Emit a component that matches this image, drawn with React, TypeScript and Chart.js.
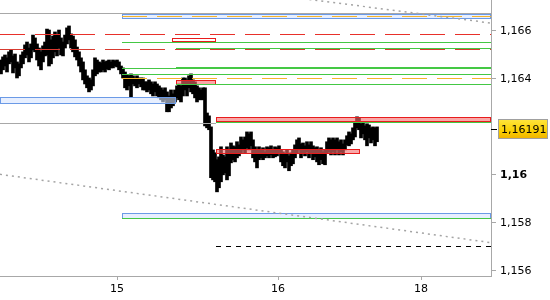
import React, { useEffect, useRef } from 'react';
import { Chart, registerables } from 'chart.js';
Chart.register(...registerables);

// ---- price bars (high / low), one per bar index ----
const highs = [
  1.16479, 1.16492, 1.16500, 1.16488, 1.16513, 1.16521, 1.16496, 1.16504, 1.16471, 1.16463,
  1.16500, 1.16513, 1.16542, 1.16554, 1.16529, 1.16546, 1.16583, 1.16571, 1.16546, 1.16529,
  1.16513, 1.16538, 1.16554, 1.16608, 1.16604, 1.16563, 1.16579, 1.16596, 1.16583, 1.16604,
  1.16571, 1.16554, 1.16583, 1.16613, 1.16621, 1.16588, 1.16579, 1.16563, 1.16533, 1.16513,
  1.16488, 1.16471, 1.16438, 1.16413, 1.16404, 1.16396, 1.16438, 1.16488, 1.16479, 1.16471,
  1.16467, 1.16479, 1.16471, 1.16475, 1.16479, 1.16471, 1.16479, 1.16475, 1.16479, 1.16471,
  1.16454, 1.16446, 1.16429, 1.16417, 1.16413, 1.16421, 1.16413, 1.16404, 1.16413, 1.16404,
  1.16404, 1.16404, 1.16388, 1.16388, 1.16396, 1.16388, 1.16379, 1.16388, 1.16379, 1.16371,
  1.16363, 1.16354, 1.16363, 1.16346, 1.16329, 1.16354, 1.16338, 1.16354, 1.16371, 1.16379,
  1.16371, 1.16404, 1.16404, 1.16396, 1.16413, 1.16421, 1.16396, 1.16388, 1.16371, 1.16363,
  1.16354, 1.16363, 1.16363, 1.16258, 1.16246, 1.16200, 1.16104, 1.16092, 1.16063, 1.16075,
  1.16117, 1.16083, 1.16075, 1.16117, 1.16104, 1.16133, 1.16121, 1.16117, 1.16138, 1.16125,
  1.16158, 1.16146, 1.16158, 1.16179, 1.16171, 1.16179, 1.16146, 1.16117, 1.16104, 1.16117,
  1.16104, 1.16113, 1.16096, 1.16117, 1.16113, 1.16121, 1.16104, 1.16117, 1.16113, 1.16121,
  1.16104, 1.16096, 1.16088, 1.16104, 1.16079, 1.16092, 1.16104, 1.16125, 1.16146, 1.16154,
  1.16129, 1.16133, 1.16121, 1.16138, 1.16125, 1.16138, 1.16121, 1.16113, 1.16117, 1.16104,
  1.16113, 1.16096, 1.16104, 1.16138, 1.16154, 1.16146, 1.16154, 1.16146, 1.16154, 1.16138,
  1.16146, 1.16129, 1.16146, 1.16163, 1.16179, 1.16171, 1.16196, 1.16217, 1.16242, 1.16238,
  1.16213, 1.16221, 1.16204, 1.16213, 1.16208, 1.16196, 1.16200, 1.16196, 1.16200,
];
const lows = [
  1.16421, 1.16438, 1.16454, 1.16429, 1.16463, 1.16471, 1.16425, 1.16446, 1.16404, 1.16413,
  1.16446, 1.16463, 1.16488, 1.16500, 1.16471, 1.16488, 1.16521, 1.16513, 1.16479, 1.16454,
  1.16438, 1.16471, 1.16496, 1.16500, 1.16454, 1.16463, 1.16488, 1.16513, 1.16496, 1.16529,
  1.16500, 1.16496, 1.16529, 1.16546, 1.16563, 1.16529, 1.16513, 1.16492, 1.16479, 1.16454,
  1.16429, 1.16396, 1.16379, 1.16363, 1.16346, 1.16354, 1.16371, 1.16413, 1.16421, 1.16429,
  1.16429, 1.16438, 1.16429, 1.16442, 1.16438, 1.16446, 1.16446, 1.16454, 1.16450, 1.16438,
  1.16421, 1.16404, 1.16363, 1.16354, 1.16371, 1.16325, 1.16379, 1.16371, 1.16363, 1.16379,
  1.16367, 1.16354, 1.16354, 1.16346, 1.16354, 1.16338, 1.16329, 1.16346, 1.16329, 1.16321,
  1.16313, 1.16304, 1.16313, 1.16263, 1.16263, 1.16279, 1.16288, 1.16304, 1.16321, 1.16313,
  1.16304, 1.16329, 1.16354, 1.16329, 1.16363, 1.16346, 1.16338, 1.16321, 1.16304, 1.16313,
  1.16313, 1.16313, 1.16204, 1.16196, 1.16188, 1.15988, 1.15979, 1.15971, 1.15929, 1.15946,
  1.15971, 1.16000, 1.16008, 1.15979, 1.15996, 1.16050, 1.16063, 1.16054, 1.16071, 1.16079,
  1.16092, 1.16104, 1.16092, 1.16113, 1.16104, 1.16121, 1.16071, 1.16054, 1.16029, 1.16063,
  1.16071, 1.16063, 1.16071, 1.16079, 1.16071, 1.16083, 1.16071, 1.16075, 1.16079, 1.16088,
  1.16054, 1.16038, 1.16029, 1.16054, 1.16017, 1.16038, 1.16046, 1.16071, 1.16088, 1.16104,
  1.16071, 1.16088, 1.16079, 1.16096, 1.16071, 1.16088, 1.16063, 1.16075, 1.16054, 1.16042,
  1.16063, 1.16046, 1.16042, 1.16092, 1.16096, 1.16083, 1.16096, 1.16083, 1.16104, 1.16083,
  1.16096, 1.16083, 1.16104, 1.16125, 1.16121, 1.16129, 1.16146, 1.16158, 1.16196, 1.16188,
  1.16154, 1.16171, 1.16146, 1.16121, 1.16154, 1.16133, 1.16146, 1.16121, 1.16138,
];

// ---- axes ----
const xTickValues = [58, 138.5, 210];
const xTickLabels = ['15', '16', '18'];
const yTickValues = [1.156, 1.158, 1.16, 1.164, 1.166];
const yTickLabels = ['1,156', '1,158', '1,16', '1,164', '1,166'];
const boldTick = 1.16;
const lastPrice = 1.16191;
const lastPriceLabel = '1,16191';

// ---- horizontal levels ----
const levelPrices = [1.16663, 1.16588, 1.16554, 1.16529, 1.16523, 1.16444, 1.16444, 1.16421, 1.16404, 1.16378, 1.16217, 1.16220, 1.15821, 1.15704];
const levelFrom = [60.5, -0.5, 60.5, 87.5, -0.5, 60.5, 87.5, 60.5, 60.5, 87.5, -0.5, 107.5, 60.5, 107.5];
const levelTo = [245, 245, 245, 245, 245, 245, 245, 245, 245, 245, 107.5, 245, 245, 245];
const levelKinds = ['orange', 'red', 'green', 'green', 'darkRed', 'green', 'greenBold', 'green', 'orange', 'green', 'gray', 'green', 'green', 'black'];

// ---- zones ----
const zoneTops = [1.16671, 1.16571, 1.16396, 1.16325, 1.16242, 1.16107, 1.15842];
const zoneBottoms = [1.16654, 1.16558, 1.16379, 1.16300, 1.16225, 1.16093, 1.15821];
const zoneFrom = [60.5, 85.5, 87.5, -0.5, 107.5, 107.5, 60.5];
const zoneTo = [245, 107.5, 107.5, 87.5, 245, 179.5, 245];
const zoneKinds = ['blue', 'redOutline', 'pink', 'blue', 'pink', 'pink', 'blue'];

// ---- channel (dotted) ----
const channelFromX = [-0.5, -0.5];
const channelToX = [245, 245];
const channelFromY = [1.169, 1.16002];
const channelToY = [1.16633, 1.15717];

const levelStyles: Record<string, { color: string; width: number; dash: number[] }> = {
  red: { color: '#e8302a', width: 1, dash: [25, 10] },
  darkRed: { color: '#d83a30', width: 1, dash: [25, 10] },
  green: { color: '#44c844', width: 1, dash: [] },
  greenBold: { color: '#44c844', width: 2, dash: [] },
  orange: { color: '#f5b42a', width: 1, dash: [25, 10] },
  gray: { color: '#a8a8a8', width: 1, dash: [] },
  black: { color: '#000000', width: 1, dash: [5, 5] },
};
const zoneStyles: Record<string, { fill: string; stroke: string }> = {
  blue: { fill: 'rgba(215,228,255,0.6)', stroke: '#6b9ae6' },
  redOutline: { fill: 'rgba(255,255,255,0.5)', stroke: '#e81c1c' },
  pink: { fill: 'rgba(245,110,110,0.6)', stroke: '#e81c1c' },
};

const FONT = 'DejaVu Sans';

const overlay = {
  id: 'overlay',
  afterDatasetsDraw(chart: any) {
    const { ctx, scales } = chart;
    const x = scales.x, y = scales.y;
    ctx.save();
    zoneTops.forEach((t, i) => {
      const st = zoneStyles[zoneKinds[i]];
      const x0 = Math.round(x.getPixelForValue(zoneFrom[i]));
      const x1 = Math.round(x.getPixelForValue(zoneTo[i]));
      const y0 = Math.round(y.getPixelForValue(t));
      const y1 = Math.round(y.getPixelForValue(zoneBottoms[i]));
      ctx.fillStyle = st.fill;
      ctx.fillRect(x0, y0, x1 - x0, y1 - y0);
      ctx.strokeStyle = st.stroke;
      ctx.lineWidth = 1;
      ctx.setLineDash([]);
      ctx.strokeRect(x0 + 0.5, y0 + 0.5, x1 - x0 - 1, y1 - y0);
    });
    levelPrices.forEach((p, i) => {
      const st = levelStyles[levelKinds[i]];
      const x0 = x.getPixelForValue(levelFrom[i]);
      const x1 = x.getPixelForValue(levelTo[i]);
      const py = Math.round(y.getPixelForValue(p)) + (st.width % 2 ? 0.5 : 0);
      ctx.strokeStyle = st.color;
      ctx.lineWidth = st.width;
      ctx.setLineDash(st.dash);
      ctx.beginPath();
      ctx.moveTo(x0, py);
      ctx.lineTo(x1, py);
      ctx.stroke();
    });
    ctx.setLineDash([2, 4]);
    ctx.strokeStyle = '#a4a4a4';
    ctx.lineWidth = 1.5;
    channelFromX.forEach((fx, i) => {
      ctx.beginPath();
      ctx.moveTo(x.getPixelForValue(fx), y.getPixelForValue(channelFromY[i]));
      ctx.lineTo(x.getPixelForValue(channelToX[i]), y.getPixelForValue(channelToY[i]));
      ctx.stroke();
    });
    ctx.restore();
  },
  afterDraw(chart: any) {
    const { ctx, chartArea: a, scales } = chart;
    const y = scales.y;
    ctx.save();
    ctx.setLineDash([]);
    ctx.strokeStyle = '#a8a8a8';
    ctx.lineWidth = 1;
    ctx.beginPath();
    ctx.moveTo(a.left, a.top + 0.5);
    ctx.lineTo(a.right, a.top + 0.5);
    ctx.moveTo(a.right + 0.5, 0);
    ctx.lineTo(a.right + 0.5, a.bottom);
    ctx.stroke();
    const py = Math.round(y.getPixelForValue(lastPrice));
    ctx.strokeStyle = '#000';
    ctx.beginPath();
    ctx.moveTo(a.right, py + 0.5);
    ctx.lineTo(a.right + 6, py + 0.5);
    ctx.stroke();
    const bx = a.right + 7, by = py - 10, bw = 50, bh = 20;
    const g = ctx.createLinearGradient(0, by, 0, by + bh);
    g.addColorStop(0, '#ffe640');
    g.addColorStop(0.6, '#fbd000');
    g.addColorStop(1, '#eeb000');
    ctx.fillStyle = g;
    ctx.fillRect(bx, by, bw, bh);
    ctx.strokeStyle = '#a0a0a0';
    ctx.strokeRect(bx + 0.5, by + 0.5, bw - 1, bh - 1);
    ctx.fillStyle = '#000';
    ctx.font = `11px "${FONT}"`;
    ctx.textBaseline = 'middle';
    ctx.textAlign = 'left';
    ctx.fillText(lastPriceLabel, bx + 3, py + 1);
    ctx.restore();
  },
};

export default function App() {
  const ref = useRef<HTMLCanvasElement>(null);
  useEffect(() => {
    document.body.style.margin = '0';
    const bars = highs.map((h, i) => ({ x: i, y: [lows[i], h] }));
    const chart = new Chart(ref.current as HTMLCanvasElement, {
      type: 'bar',
      data: {
        datasets: [
          {
            data: bars as any,
            backgroundColor: '#000',
            borderWidth: 0,
            barThickness: 3,
            grouped: false,
          } as any,
        ],
      },
      options: {
        animation: false,
        responsive: false,
        layout: { padding: { top: 13, left: 0, right: 0, bottom: 0 } },
        plugins: { legend: { display: false }, tooltip: { enabled: false } },
        scales: {
          x: {
            type: 'linear',
            min: -0.5,
            max: 245,
            offset: false,
            grid: { display: true, drawOnChartArea: false, drawTicks: true, tickLength: 4, color: '#a8a8a8', offset: false },
            border: { display: true, color: '#a8a8a8' },
            afterBuildTicks: (s: any) => {
              s.ticks = xTickValues.map((v) => ({ value: v }));
            },
            afterFit: (s: any) => {
              s.height = 24;
            },
            ticks: {
              autoSkip: false,
              maxRotation: 0,
              padding: 3,
              color: '#000',
              font: { family: FONT, size: 11 },
              callback: (v: any) => {
                const k = xTickValues.indexOf(Number(v));
                return k >= 0 ? xTickLabels[k] : '';
              },
            },
          },
          y: {
            type: 'linear',
            position: 'right',
            min: 1.15578,
            max: 1.16675,
            grid: { display: true, drawOnChartArea: false, drawTicks: true, tickLength: 5, color: '#a8a8a8' },
            border: { display: true, color: '#a8a8a8' },
            afterBuildTicks: (s: any) => {
              s.ticks = yTickValues.map((v) => ({ value: v }));
            },
            afterFit: (s: any) => {
              s.width = 59;
            },
            ticks: {
              autoSkip: false,
              padding: 4,
              color: '#000',
              font: (c: any) => ({
                family: FONT,
                size: 11,
                weight: c.tick && c.tick.value === boldTick ? 'bold' : 'normal',
              }),
              callback: (v: any) => {
                const k = yTickValues.indexOf(Number(v));
                return k >= 0 ? yTickLabels[k] : '';
              },
            },
          },
        } as any,
      },
      plugins: [overlay],
    });
    return () => chart.destroy();
  }, []);
  return (
    <div style={{ position: 'fixed', left: 0, top: 0, width: 550, height: 300, background: '#fff' }}>
      <canvas ref={ref} width={550} height={300} style={{ display: 'block' }} />
    </div>
  );
}
